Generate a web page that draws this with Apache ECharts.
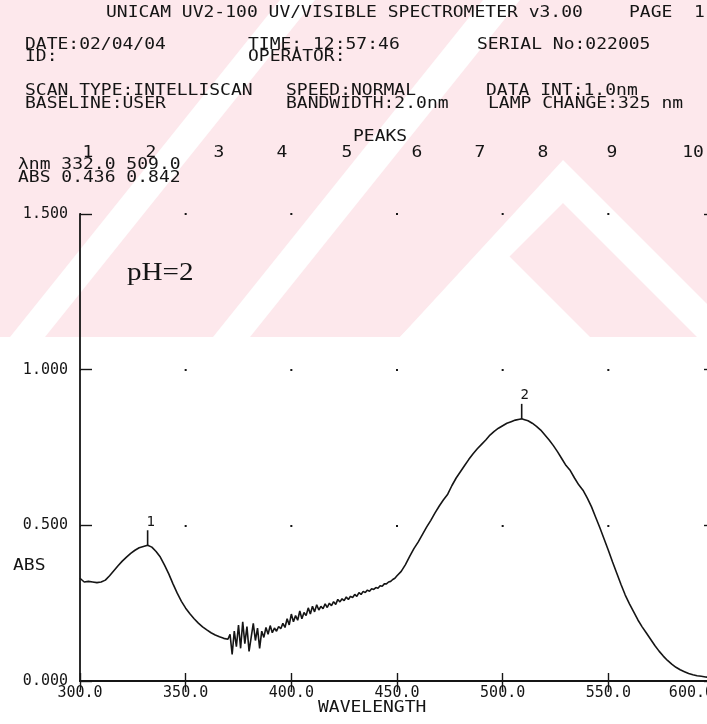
<!DOCTYPE html>
<html><head><meta charset="utf-8">
<script src="https://cdn.jsdelivr.net/npm/echarts@6/dist/echarts.min.js"></script>
<style>html,body{margin:0;padding:0;background:#fff}#c{width:707px;height:724px}</style>
</head><body><div id="c"></div>
<script>
// ---- data ----
const wavelength = [
  300,302,304,306,308,310,312,314,316,318,320,322,324,326,328,330,332,334,336,338,
  340,342,344,346,348,350,352,354,356,358,360,362,364,366,368,370,
  371,372,373,374,375,376,377,378,379,380,381,382,383,384,385,386,387,388,389,390,
  391,392,393,394,395,396,397,398,399,400,401,402,403,404,405,406,407,408,409,410,
  411,412,413,414,415,416,417,418,419,420,421,422,423,424,425,426,427,428,429,430,
  431,432,433,434,435,436,437,438,439,440,441,442,443,444,445,446,447,448,449,450,
  452,454,456,458,460,462,464,466,468,470,472,474,476,478,480,482,484,486,488,490,
  492,494,496,498,500,502,504,506,508,509,
  510,512,514,516,518,520,522,524,526,528,530,532,534,536,538,540,542,544,546,548,
  550,552,554,556,558,560,562,564,566,568,570,572,574,576,578,580,582,584,586,588,
  590,592,594,596,598,600
];
const absorbance = [
  0.330,0.318,0.320,0.318,0.316,0.318,0.324,0.338,0.354,0.370,0.385,0.398,0.410,0.420,0.428,0.432,0.436,0.430,0.416,0.398,
  0.372,0.344,0.312,0.282,0.256,0.234,0.216,0.200,0.186,0.174,0.164,0.155,0.148,0.142,0.137,0.134,
  0.150,0.085,0.160,0.110,0.180,0.105,0.190,0.120,0.175,0.095,0.140,0.185,0.130,0.170,0.105,0.160,0.140,0.172,0.150,0.178,
  0.155,0.170,0.160,0.175,0.168,0.185,0.172,0.200,0.180,0.215,0.190,0.210,0.195,0.225,0.200,0.220,0.210,0.235,0.215,0.240,
  0.222,0.245,0.228,0.240,0.232,0.248,0.236,0.250,0.242,0.255,0.246,0.262,0.254,0.264,0.258,0.270,0.262,0.272,0.268,0.278,
  0.272,0.284,0.278,0.288,0.284,0.292,0.288,0.296,0.294,0.300,0.298,0.306,0.304,0.312,0.312,0.318,0.320,0.326,0.330,0.338,
  0.352,0.374,0.400,0.425,0.446,0.470,0.494,0.516,0.540,0.562,0.582,0.600,0.628,0.652,0.672,0.692,0.712,0.730,0.746,0.760,
  0.774,0.790,0.802,0.812,0.820,0.828,0.833,0.838,0.841,0.842,
  0.840,0.836,0.828,0.818,0.806,0.790,0.774,0.756,0.736,0.714,0.692,0.676,0.652,0.630,0.613,0.588,0.560,0.526,0.492,0.456,
  0.420,0.382,0.346,0.310,0.276,0.248,0.222,0.196,0.174,0.154,0.134,0.114,0.096,0.080,0.066,0.054,0.044,0.036,0.030,0.024,
  0.020,0.017,0.015,0.013,0.011,0.010
];
const peakWavelength = [332.0, 509.0];
const peakAbs = [0.436, 0.842];
const peakSlots = ['1','2','3','4','5','6','7','8','9','10'];
const xMin = 300, xMax = 600, xStep = 50;
const yMin = 0, yMax = 1.5, yStep = 0.5;

// ---- layout / style ----
const MONO = '"DejaVu Sans Mono", "Liberation Mono", monospace';
const INK = '#151515';
const PINK = '#fde8ec';
const SX = 1.2;

function txt(text, x, y, opt) {
  opt = opt || {};
  return {
    type: 'text', x: x, y: y, z: 10, scaleX: opt.sx || SX,
    style: {
      text: text, fill: INK, fontFamily: opt.ff || MONO, fontSize: opt.fs || 15,
      fontWeight: opt.fw || 'normal',
      align: opt.align || 'left', verticalAlign: 'middle'
    }
  };
}
function poly(points, fill) {
  return { type: 'polygon', z: -5, shape: { points: points }, style: { fill: fill } };
}

const slotX = [88,151,219,282,347,417,480,543,612,693];
const graphics = [
  // faint watermark band
  { type: 'rect', z: -6, shape: { x: 0, y: 0, width: 707, height: 337 }, style: { fill: PINK } },
  poly([[10,337],[45,337],[315,0],[280,0]], '#fff'),
  poly([[213,337],[250,337],[520,0],[483,0]], '#fff'),
  poly([[400,337],[493,240],[590,337]], '#fff'),
  poly([[563,160],[707,304],[707,337],[697,337],[563,203],[429,337],[400,337]], '#fff'),

  txt('UNICAM UV2-100 UV/VISIBLE SPECTROMETER v3.00', 106, 13),
  txt('PAGE  1', 629, 13),
  txt('DATE:02/04/04', 25, 45),
  txt('TIME: 12:57:46', 248, 45),
  txt('SERIAL No:022005', 477, 45),
  txt('ID:', 25, 57),
  txt('OPERATOR:', 248, 57),
  txt('SCAN TYPE:INTELLISCAN', 25, 91),
  txt('SPEED:NORMAL', 286, 91),
  txt('DATA INT:1.0nm', 486, 91),
  txt('BASELINE:USER', 25, 104),
  txt('BANDWIDTH:2.0nm', 286, 104),
  txt('LAMP CHANGE:325 nm', 488, 104),
  txt('PEAKS', 353, 137),
  txt('λnm ' + peakWavelength.map(v => v.toFixed(1)).join(' '), 18, 165),
  txt('ABS ' + peakAbs.map(v => v.toFixed(3)).join(' '), 18, 178),
  txt('ABS', 13, 566),
  txt('WAVELENGTH', 318, 708),
  txt('pH=2', 127, 273, { ff: '"Liberation Serif", "DejaVu Serif", serif', fs: 26, sx: 1.12 })
].concat(peakSlots.map((s, i) => txt(s, slotX[i], 153, { align: 'center' })));

const chart = echarts.init(document.getElementById('c'), null, { renderer: 'canvas' });
const axisLine = { show: true, lineStyle: { color: INK, width: 1.8 } };
const gridW = 634; // 80 .. 714 (right edge lies just outside the page)
const dotGap = gridW / ((xMax - xMin) / xStep);

chart.setOption({
  animation: false,
  backgroundColor: '#fff',
  grid: { left: 80, right: -7, top: 214, bottom: 43, outerBoundsMode: 'none', containLabel: false },
  xAxis: [{
    type: 'value', min: xMin, max: xMax, interval: xStep, position: 'bottom',
    axisLine: axisLine,
    axisTick: { show: true, inside: true, length: 8, lineStyle: { color: INK, width: 1.4 } },
    axisLabel: { color: INK, fontFamily: MONO, fontSize: 15, margin: 5, formatter: v => v.toFixed(1),
      showMaxLabel: true, showMinLabel: true, alignMaxLabel: 'right' },
    splitLine: { show: false }
  }, {
    type: 'value', min: xMin, max: xMax, interval: xStep, position: 'top',
    axisLine: axisLine,
    axisTick: { show: true, inside: true, length: 9, lineStyle: { color: INK, width: 1.4 } },
    axisLabel: { show: false }, splitLine: { show: false }
  }],
  yAxis: [{
    type: 'value', min: yMin, max: yMax, interval: yStep, position: 'left',
    axisLine: axisLine,
    axisTick: { show: true, inside: true, length: 12, lineStyle: { color: INK, width: 1.4 } },
    axisLabel: { color: INK, fontFamily: MONO, fontSize: 15, margin: 12, formatter: v => v.toFixed(3) },
    splitLine: { show: true, lineStyle: { color: INK, width: 2, type: [2, dotGap - 2], dashOffset: 1 } }
  }, {
    type: 'value', min: yMin, max: yMax, interval: yStep, position: 'right',
    axisLine: axisLine,
    axisTick: { show: true, inside: true, length: 10, lineStyle: { color: INK, width: 1.4 } },
    axisLabel: { show: false }, splitLine: { show: false }
  }],
  graphic: { elements: graphics },
  series: [{
    type: 'line',
    xAxisIndex: 0, yAxisIndex: 0,
    data: wavelength.map((w, i) => [w, absorbance[i]]),
    showSymbol: false, symbol: 'none',
    lineStyle: { color: INK, width: 1.6 },
    z: 3,
    markPoint: {
      symbol: 'rect', symbolSize: [1.6, 15], symbolOffset: [0, -7.5],
      itemStyle: { color: INK },
      label: { show: true, position: 'top', distance: 1, offset: [3, 0], color: INK, fontFamily: MONO, fontSize: 14, formatter: p => p.name },
      data: peakWavelength.map((w, i) => ({ name: String(i + 1), coord: [w, peakAbs[i]] }))
    }
  }]
});
</script></body></html>
